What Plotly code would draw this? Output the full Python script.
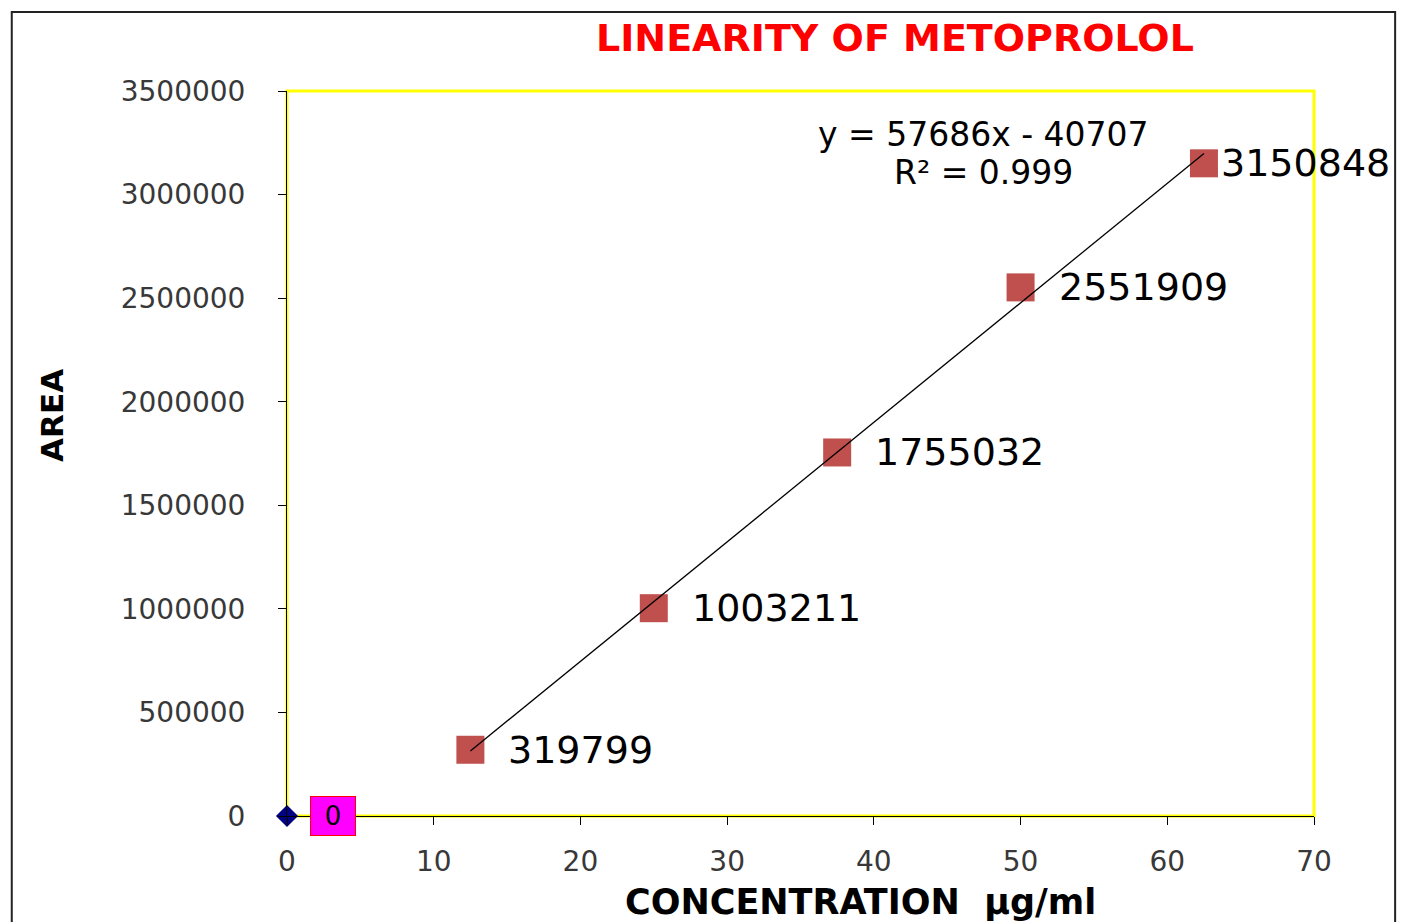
import numpy as np
import plotly.graph_objects as go

# ---- data ----
concentration = [12.5, 25, 37.5, 50, 62.5]
area = [319799, 1003211, 1755032, 2551909, 3150848]
origin_x = [0]
origin_y = [0]
x_ticks = [0, 10, 20, 30, 40, 50, 60, 70]
y_ticks = [0, 500000, 1000000, 1500000, 2000000, 2500000, 3000000, 3500000]
title_text = "LINEARITY OF METOPROLOL"
x_title = "CONCENTRATION  µg/ml"
y_title = "AREA"
equation_text = "y = 57686x - 40707"
r2_text = "R² = 0.999"

# linear fit for trendline
slope, intercept = np.polyfit(concentration, area, 1)
fit_x = [min(concentration), max(concentration)]
fit_y = [slope * v + intercept for v in fit_x]

fig = go.Figure()

fig.add_trace(go.Scatter(
    x=origin_x, y=origin_y, mode="markers",
    marker=dict(symbol="diamond", size=17, color="#000080"),
    showlegend=False, cliponaxis=False))

fig.add_trace(go.Scatter(
    x=concentration, y=area, mode="markers",
    marker=dict(symbol="square", size=28, color="#C0504D"),
    showlegend=False, cliponaxis=False))

fig.add_trace(go.Scatter(
    x=fit_x, y=fit_y, mode="lines",
    line=dict(color="#000000", width=1.3),
    showlegend=False))

label_font = dict(family="DejaVu Sans", size=38, color="#000000")
label_shift = [36, 36, 36, 36, 15]
for xv, yv, sh in zip(concentration, area, label_shift):
    fig.add_annotation(x=xv, y=yv, text=str(yv), showarrow=False,
                       xanchor="left", yanchor="middle", xshift=sh, yshift=0,
                       font=label_font)

# label of origin point
fig.add_annotation(x=origin_x[0], y=origin_y[0], text=str(origin_y[0]), showarrow=False,
                   xanchor="left", yanchor="middle", xshift=23, yshift=0,
                   width=44, height=38, align="center", valign="middle",
                   bgcolor="#FF00FF", bordercolor="#FF0000", borderwidth=1, borderpad=0,
                   font=dict(family="DejaVu Sans", size=26, color="#000000"))

# equation
fig.add_annotation(xref="paper", yref="paper", x=0.678, y=0.940, text=equation_text,
                   showarrow=False, xanchor="center", yanchor="middle",
                   font=dict(family="DejaVu Sans", size=33, color="#000000"))
fig.add_annotation(xref="paper", yref="paper", x=0.678, y=0.887, text=r2_text,
                   showarrow=False, xanchor="center", yanchor="middle",
                   font=dict(family="DejaVu Sans", size=33, color="#000000"))

# title
fig.add_annotation(xref="paper", yref="paper", x=0.592, y=1.073, text="<b>" + title_text + "</b>",
                   showarrow=False, xanchor="center", yanchor="middle",
                   font=dict(family="DejaVu Sans", size=38, color="#FF0000"))
# axis titles
fig.add_annotation(xref="paper", yref="paper", x=0.558, y=-0.118, text="<b>" + x_title + "</b>",
                   showarrow=False, xanchor="center", yanchor="middle",
                   font=dict(family="DejaVu Sans", size=35, color="#000000"))
fig.add_annotation(xref="paper", yref="paper", x=-0.229, y=0.553, text="<b>" + y_title + "</b>",
                   showarrow=False, xanchor="center", yanchor="middle", textangle=-90,
                   font=dict(family="DejaVu Sans", size=31, color="#000000"))

# plot area yellow border
fig.add_shape(type="rect", xref="paper", yref="paper", x0=0, y0=0, x1=1, y1=1,
              line=dict(color="#FFFF00", width=3), layer="below")
# outer chart border
fig.add_shape(type="rect", xref="paper", yref="paper", x0=-0.268, y0=-0.2, x1=1.079, y1=1.109,
              line=dict(color="#222222", width=2), layer="below")

tick_font = dict(family="DejaVu Sans", size=28, color="#383838")
fig.update_xaxes(range=[0, 70], tickvals=x_ticks, ticktext=[str(v) for v in x_ticks],
                 showgrid=False, zeroline=False, showline=True, linecolor="#000000", linewidth=1,
                 ticks="outside", ticklen=8, tickcolor="#000000", tickfont=tick_font,
                 ticklabelstandoff=12)
fig.update_yaxes(range=[0, 3500000], tickvals=y_ticks, ticktext=[str(v) for v in y_ticks],
                 showgrid=False, zeroline=False, showline=True, linecolor="#000000", linewidth=1,
                 ticks="outside", ticklen=8, tickcolor="#000000", tickfont=tick_font,
                 ticklabelstandoff=27)

fig.update_layout(width=1406, height=922,
                  margin=dict(l=279, r=100, t=83, b=114),
                  plot_bgcolor="#FFFFFF", paper_bgcolor="#FFFFFF",
                  showlegend=False)

fig.write_html("out.html")
